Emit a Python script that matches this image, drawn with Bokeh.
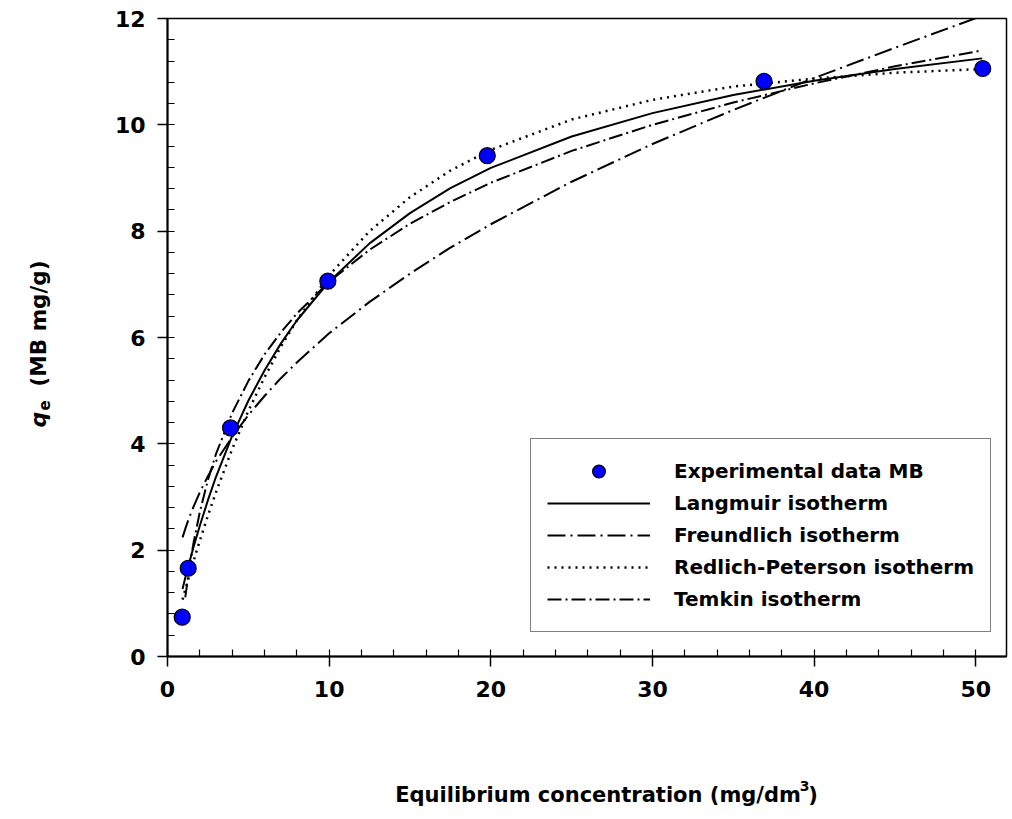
import math
from bokeh.plotting import figure
from bokeh.models import Label, SingleIntervalTicker, Range1d
from bokeh.layouts import row, column
from bokeh.embed import file_html
from bokeh.resources import INLINE

# ---- data ----
exp_C = [0.91, 1.28, 3.90, 9.92, 19.78, 36.9, 50.43]
exp_q = [0.74, 1.66, 4.30, 7.06, 9.42, 10.82, 11.06]

curve_C = [0.93, 1.1, 1.3, 1.6, 2, 2.5, 3, 4, 5, 6, 7, 8, 10, 12.5, 15, 17.5, 20, 25, 30, 35, 40, 45, 50.4]
langmuir_q = [1.27, 1.48, 1.71, 2.05, 2.46, 2.94, 3.38, 4.15, 4.81, 5.38, 5.88, 6.32, 7.05, 7.77,
              8.34, 8.81, 9.19, 9.78, 10.22, 10.56, 10.83, 11.05, 11.25]
freundlich_q = [2.24, 2.40, 2.58, 2.81, 3.09, 3.39, 3.67, 4.13, 4.54, 4.90, 5.23, 5.53, 6.08, 6.67,
                7.20, 7.69, 8.13, 8.93, 9.64, 10.28, 10.88, 11.45, 12.05]
redlich_q = [1.07, 1.26, 1.47, 1.78, 2.18, 2.65, 3.09, 3.90, 4.62, 5.25, 5.82, 6.32, 7.17, 8.00,
             8.64, 9.14, 9.53, 10.10, 10.47, 10.72, 10.87, 10.98, 11.05]
temkin_C = [1.1, 1.3, 1.6, 2, 2.5, 3, 4, 5, 6, 7, 8, 10, 12.5, 15, 17.5, 20, 25, 30, 35, 40, 45, 50.4]
temkin_q = [1.11, 1.56, 2.12, 2.72, 3.32, 3.81, 4.58, 5.18, 5.68, 6.09, 6.45, 7.05, 7.65,
            8.14, 8.55, 8.91, 9.51, 10.00, 10.42, 10.78, 11.10, 11.40]

x_ticks_interval = 10
y_ticks_interval = 2

FONT = "DejaVu Sans"

# ---- main plot ----
p = figure(frame_width=839, frame_height=638,
           min_border_left=107, min_border_right=6, min_border_top=18, min_border_bottom=60,
           x_range=Range1d(0, 51.9), y_range=Range1d(0, 12),
           output_backend="svg", toolbar_location=None,
           background_fill_color="white", border_fill_color="white")

p.xgrid.visible = False
p.ygrid.visible = False
p.outline_line_color = "black"
p.outline_line_width = 1.5

p.xaxis.ticker = SingleIntervalTicker(interval=x_ticks_interval, num_minor_ticks=5)
p.yaxis.ticker = SingleIntervalTicker(interval=y_ticks_interval, num_minor_ticks=5)
for ax in (p.xaxis, p.yaxis):
    ax.axis_line_width = 2
    ax.axis_line_color = "black"
    ax.major_tick_line_width = 1.5
    ax.major_tick_line_color = "black"
    ax.minor_tick_line_width = 1.2
    ax.minor_tick_line_color = "black"
    ax.major_tick_in = 0
    ax.major_tick_out = 10
    ax.minor_tick_in = 7
    ax.minor_tick_out = 0
    ax.major_label_text_font = FONT
    ax.major_label_text_font_style = "bold"
    ax.major_label_text_font_size = "22px"
    ax.major_label_text_color = "black"
p.xaxis.major_label_standoff = 14
p.yaxis.major_label_standoff = 12

p.scatter(exp_C, exp_q, size=16, marker="circle", fill_color="#0000FF", line_color="black",
          line_width=1.2, legend_label="Experimental data MB", level="overlay")
p.line(curve_C, langmuir_q, line_color="black", line_width=2, legend_label="Langmuir isotherm")
p.line(curve_C, freundlich_q, line_color="black", line_width=2, line_dash="18 5 2 5",
       legend_label="Freundlich isotherm")
p.line(curve_C, redlich_q, line_color="black", line_width=2.5, line_dash="2 5",
       legend_label="Redlich-Peterson isotherm")
p.line(temkin_C, temkin_q, line_color="black", line_width=2, line_dash="14 4 2 4",
       legend_label="Temkin isotherm")

lg = p.legend[0]
lg.location = (363, 24)
lg.label_text_font = FONT
lg.label_text_font_style = "bold"
lg.label_text_font_size = "20px"
lg.label_text_color = "black"
lg.glyph_width = 103
lg.glyph_height = 32
lg.label_height = 24
lg.label_standoff = 24
lg.spacing = 0
lg.padding = 16
lg.margin = 0
lg.border_line_color = "black"
lg.border_line_width = 1.5
lg.background_fill_color = "white"
lg.background_fill_alpha = 1.0


def blank(w, h):
    f = figure(width=w, height=h, x_range=Range1d(0, w), y_range=Range1d(0, h),
               x_axis_type=None, y_axis_type=None, min_border=0,
               output_backend="svg", toolbar_location=None,
               background_fill_color="white", border_fill_color="white")
    f.outline_line_color = None
    f.xgrid.visible = False
    f.ygrid.visible = False
    return f


def lab(f, x, y, text, size, style, align, angle=0.0):
    f.add_layout(Label(x=x, y=y, text=text, text_font=FONT, text_font_size=size,
                       text_font_style=style, text_align=align, text_baseline="alphabetic",
                       text_color="black", angle=angle))

# ---- y-axis title strip (left) ----
yf = blank(60, 819)
lab(yf, 38, 819 - 427, "q", "22px", "bold italic", "left", math.pi / 2)
lab(yf, 43, 819 - 410, "e", "15px", "bold", "left", math.pi / 2)
lab(yf, 38, 819 - 260, "(MB mg/g)", "21.5px", "bold", "right", math.pi / 2)

# ---- x-axis title strip (bottom) ----
xf = blank(952, 103)
lab(xf, 778.7 - 60, 819 - 794, "Equilibrium concentration (mg/dm", "21px", "bold", "right")
lab(xf, 788.4 - 60, 819 - 785, "3", "14px", "bold", "right")
lab(xf, 798 - 60, 819 - 794, ")", "21px", "bold", "right")

layout = row(yf, column(p, xf, spacing=0), spacing=0)

open("out.html", "w").write(file_html(layout, INLINE))
